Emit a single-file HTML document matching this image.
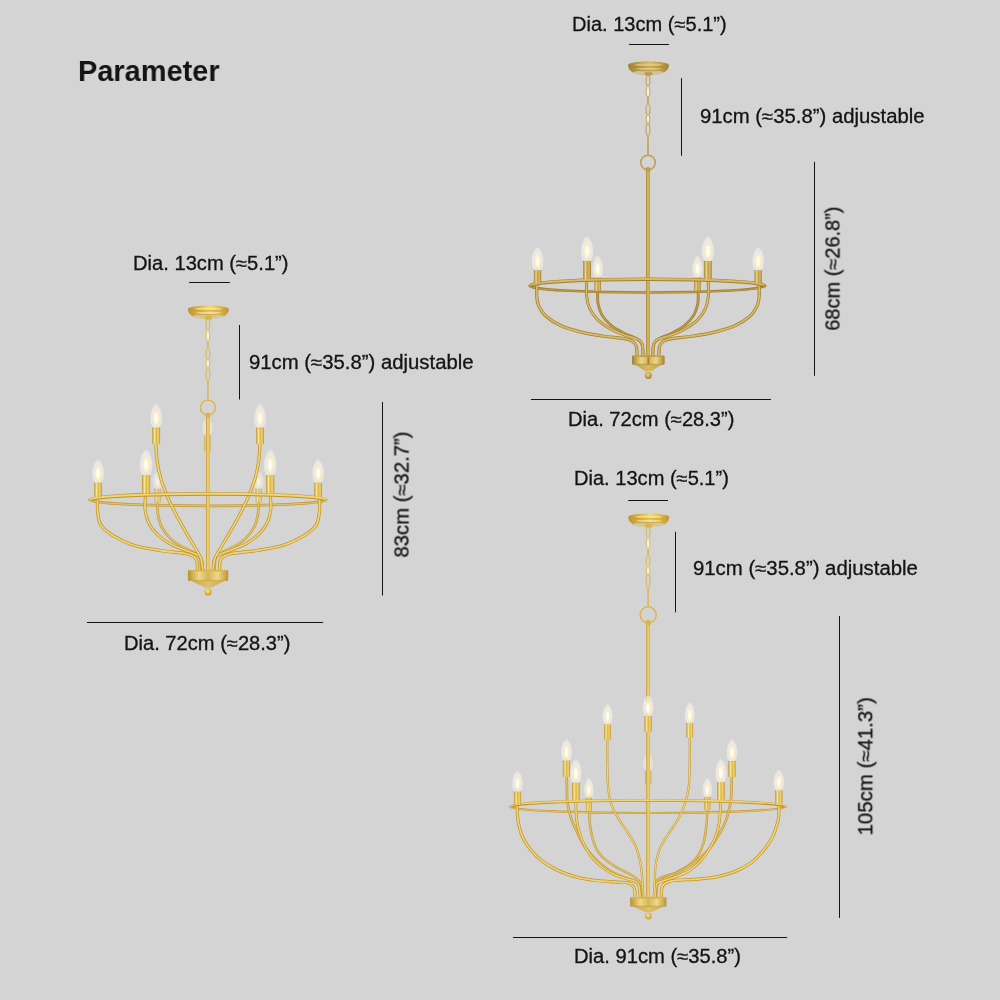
<!DOCTYPE html>
<html lang="en"><head><meta charset="utf-8"><title>Parameter</title>
<style>
html,body{margin:0;padding:0}
body{width:1000px;height:1000px;background:#d4d4d4;position:relative;overflow:hidden;font-family:"Liberation Sans",sans-serif;color:#141414}
svg{position:absolute;left:0;top:0}
.t{position:absolute;will-change:transform;-webkit-text-stroke:0.3px #141414;white-space:nowrap;line-height:1;transform-origin:0 0;font-size:20px}
.h{font-weight:700;-webkit-text-stroke:0}
</style></head>
<body>
<svg width="1000" height="1000" viewBox="0 0 1000 1000">
<defs>
<linearGradient id="gRoda" x1="0" x2="1" y1="0" y2="0"><stop offset="0" stop-color="#a08035"/><stop offset="0.45" stop-color="#d8ba62"/><stop offset="1" stop-color="#bf9d49"/></linearGradient>
<linearGradient id="gSla" x1="0" x2="1" y1="0" y2="0"><stop offset="0" stop-color="#a08035"/><stop offset="0.3" stop-color="#ead68a"/><stop offset="0.52" stop-color="#bf9d49"/><stop offset="0.75" stop-color="#d8ba62"/><stop offset="1" stop-color="#a08035"/></linearGradient>
<linearGradient id="gCana" x1="0" x2="1" y1="0" y2="0"><stop offset="0" stop-color="#a08035"/><stop offset="0.3" stop-color="#bf9d49"/><stop offset="0.55" stop-color="#d8ba62"/><stop offset="0.8" stop-color="#bf9d49"/><stop offset="1" stop-color="#a08035"/></linearGradient>
<linearGradient id="gHuba" x1="0" x2="1" y1="0" y2="0"><stop offset="0" stop-color="#a08035"/><stop offset="0.1" stop-color="#bf9d49"/><stop offset="0.28" stop-color="#ead68a"/><stop offset="0.45" stop-color="#d8ba62"/><stop offset="0.5" stop-color="#a08035"/><stop offset="0.56" stop-color="#d8ba62"/><stop offset="0.74" stop-color="#ead68a"/><stop offset="0.92" stop-color="#bf9d49"/><stop offset="1" stop-color="#a08035"/></linearGradient>
<linearGradient id="gConea" x1="0" x2="1" y1="0" y2="0"><stop offset="0" stop-color="#bf9d49"/><stop offset="0.5" stop-color="#d8ba62"/><stop offset="1" stop-color="#bf9d49"/></linearGradient>
<radialGradient id="gBalla" cx="0.45" cy="0.35" r="0.7"><stop offset="0" stop-color="#ead68a"/><stop offset="0.6" stop-color="#bf9d49"/><stop offset="1" stop-color="#a08035"/></radialGradient>
<linearGradient id="gRodb" x1="0" x2="1" y1="0" y2="0"><stop offset="0" stop-color="#c0912e"/><stop offset="0.45" stop-color="#f0d670"/><stop offset="1" stop-color="#dcb548"/></linearGradient>
<linearGradient id="gSlb" x1="0" x2="1" y1="0" y2="0"><stop offset="0" stop-color="#c0912e"/><stop offset="0.3" stop-color="#f8e896"/><stop offset="0.52" stop-color="#dcb548"/><stop offset="0.75" stop-color="#f0d670"/><stop offset="1" stop-color="#c0912e"/></linearGradient>
<linearGradient id="gCanb" x1="0" x2="1" y1="0" y2="0"><stop offset="0" stop-color="#c0912e"/><stop offset="0.3" stop-color="#dcb548"/><stop offset="0.55" stop-color="#f0d670"/><stop offset="0.8" stop-color="#dcb548"/><stop offset="1" stop-color="#c0912e"/></linearGradient>
<linearGradient id="gHubb" x1="0" x2="1" y1="0" y2="0"><stop offset="0" stop-color="#b3913a"/><stop offset="0.1" stop-color="#cdab4e"/><stop offset="0.28" stop-color="#ead888"/><stop offset="0.45" stop-color="#dcc068"/><stop offset="0.5" stop-color="#d4b658"/><stop offset="0.56" stop-color="#dcc068"/><stop offset="0.74" stop-color="#ead888"/><stop offset="0.92" stop-color="#cdab4e"/><stop offset="1" stop-color="#b3913a"/></linearGradient>
<linearGradient id="gConeb" x1="0" x2="1" y1="0" y2="0"><stop offset="0" stop-color="#cdab4e"/><stop offset="0.5" stop-color="#dcc068"/><stop offset="1" stop-color="#cdab4e"/></linearGradient>
<radialGradient id="gBallb" cx="0.45" cy="0.35" r="0.7"><stop offset="0" stop-color="#f8e896"/><stop offset="0.6" stop-color="#dcb548"/><stop offset="1" stop-color="#c0912e"/></radialGradient>
<radialGradient id="gBulb" cx="0.5" cy="0.55" r="0.6"><stop offset="0" stop-color="#fffdf6" stop-opacity="0.85"/><stop offset="0.6" stop-color="#f9f7f0" stop-opacity="0.62"/><stop offset="1" stop-color="#f0efea" stop-opacity="0.45"/></radialGradient>
<radialGradient id="gGlow" cx="0.5" cy="0.5" r="0.5"><stop offset="0" stop-color="#fffef6"/><stop offset="0.5" stop-color="#fffae2"/><stop offset="0.75" stop-color="#f9eab8" stop-opacity="0.8"/><stop offset="1" stop-color="#f3e0a4" stop-opacity="0"/></radialGradient>
</defs>
<g id="c1">
<rect x="629" y="44" width="40" height="1" fill="#141414"/>
<rect x="681" y="78.2" width="1" height="77.5" fill="#141414"/>
<rect x="814" y="161.8" width="1" height="214" fill="#141414"/>
<rect x="530.9" y="399" width="240" height="1" fill="#141414"/>
<path d="M628 65.28C628 60.4 669 60.4 669 65.28C668.5 69.66 665.9 71 664.9 72C658.34 75.79 638.66 75.79 632.1 72C631.1 71 628.5 69.66 628 65.28 Z" fill="url(#gCana)"/>
<ellipse cx="648.5" cy="72.5" rx="15.25" ry="2.19" fill="#cdc5ac" opacity="0.92"/>
<ellipse cx="648.5" cy="64.84" rx="13.53" ry="1.46" fill="#ead68a" opacity="0.6"/>
<ellipse cx="648.5" cy="67.03" rx="16.4" ry="0.58" fill="#a08035" opacity="0.55"/>
<ellipse cx="648.5" cy="68.78" rx="12.3" ry="1.02" fill="#ead68a" opacity="0.6"/>
<ellipse cx="648.5" cy="70.68" rx="14.76" ry="0.58" fill="#a08035" opacity="0.5"/>
<ellipse cx="648.5" cy="73.75" rx="4.2" ry="2.1" fill="#bf9d49"/>
<ellipse cx="648" cy="80.67" rx="2.0" ry="5.57" fill="none" stroke="#bf9d49" stroke-width="1.0"/>
<ellipse cx="648" cy="91.4" rx="1.9" ry="5.96" fill="#f1eee4" stroke="#bf9d49" stroke-width="0.9"/>
<rect x="647.25" y="96.97" width="1.5" height="7.16" rx="0.7" fill="#bf9d49"/>
<ellipse cx="648" cy="109.69" rx="2.0" ry="5.96" fill="none" stroke="#bf9d49" stroke-width="1.0"/>
<ellipse cx="648" cy="119.22" rx="1.9" ry="4.37" fill="#f1eee4" stroke="#bf9d49" stroke-width="0.9"/>
<ellipse cx="648" cy="129.56" rx="2.0" ry="6.76" fill="none" stroke="#bf9d49" stroke-width="1.0"/>
<rect x="647.25" y="135.92" width="1.5" height="7.95" rx="0.7" fill="#bf9d49"/>
<rect x="647.25" y="143.87" width="1.5" height="11.13" rx="0.7" fill="#bf9d49"/>
<circle cx="648" cy="162.6" r="7.3" fill="none" stroke="#bf9d49" stroke-width="1.4"/>
<path d="M529.6 285.9 A117.8 6.6 0 0 0 765.2 285.9" fill="none" stroke="#9e7a2e" stroke-width="2.6"/>
<path d="M529.6 285.9 A117.8 6.6 0 0 0 765.2 285.9" fill="none" stroke="#c29a46" stroke-width="1.3"/>
<path d="M597.74 290.2C597.79 292.37 597.31 299.09 598 303.2C598.7 307.32 599.74 311.22 601.9 314.9C604.07 318.59 607.32 322.27 611 325.3C614.69 328.34 620.1 331.07 624 333.1C627.9 335.14 631.63 336.09 634.4 337.52C637.18 338.95 639.26 340.04 640.64 341.68C642.03 343.33 642.33 345.15 642.72 347.41C643.11 349.66 642.94 353.91 642.98 355.21" fill="none" stroke="#9e7a2e" stroke-width="2.76" stroke-linecap="round"/>
<path d="M597.74 290.2C597.79 292.37 597.31 299.09 598 303.2C598.7 307.32 599.74 311.22 601.9 314.9C604.07 318.59 607.32 322.27 611 325.3C614.69 328.34 620.1 331.07 624 333.1C627.9 335.14 631.63 336.09 634.4 337.52C637.18 338.95 639.26 340.04 640.64 341.68C642.03 343.33 642.33 345.15 642.72 347.41C643.11 349.66 642.94 353.91 642.98 355.21" fill="none" stroke="#c29a46" stroke-width="1.38" stroke-linecap="round"/>
<path d="M698.11 290.2C698.06 292.37 698.54 299.09 697.85 303.2C697.15 307.32 696.11 311.22 693.95 314.9C691.78 318.59 688.53 322.27 684.85 325.3C681.16 328.34 675.75 331.07 671.85 333.1C667.95 335.14 664.22 336.09 661.45 337.52C658.67 338.95 656.59 340.04 655.21 341.68C653.82 343.33 653.52 345.15 653.13 347.41C652.74 349.66 652.91 353.91 652.87 355.21" fill="none" stroke="#9e7a2e" stroke-width="2.76" stroke-linecap="round"/>
<path d="M698.11 290.2C698.06 292.37 698.54 299.09 697.85 303.2C697.15 307.32 696.11 311.22 693.95 314.9C691.78 318.59 688.53 322.27 684.85 325.3C681.16 328.34 675.75 331.07 671.85 333.1C667.95 335.14 664.22 336.09 661.45 337.52C658.67 338.95 656.59 340.04 655.21 341.68C653.82 343.33 653.52 345.15 653.13 347.41C652.74 349.66 652.91 353.91 652.87 355.21" fill="none" stroke="#c29a46" stroke-width="1.38" stroke-linecap="round"/>
<g>
<rect x="594.44" y="277.2" width="6.6" height="13.52" rx="0.6" fill="url(#gSla)" />
<rect x="594.44" y="277.2" width="6.6" height="0.9" fill="#a08035" opacity="0.5"/>
<path d="M595.1 277.5C593.15 274.91 592.91 272.11 592.91 268.44C592.91 261.96 595.91 256.78 597.74 255.92C599.58 256.78 602.58 261.96 602.58 268.44C602.58 272.11 602.34 274.91 600.38 277.5 Z" fill="url(#gBulb)" stroke="#f3f1ea" stroke-opacity="0.7" stroke-width="0.5"/>
<ellipse cx="597.74" cy="268.87" rx="3.19" ry="8.63" fill="url(#gGlow)"/>
</g>
<g>
<rect x="694.16" y="277.2" width="6.6" height="13.52" rx="0.6" fill="url(#gSla)" />
<rect x="694.16" y="277.2" width="6.6" height="0.9" fill="#a08035" opacity="0.5"/>
<path d="M694.82 277.5C692.86 274.91 692.62 272.11 692.62 268.44C692.62 261.96 695.62 256.78 697.46 255.92C699.29 256.78 702.29 261.96 702.29 268.44C702.29 272.11 702.05 274.91 700.1 277.5 Z" fill="url(#gBulb)" stroke="#f3f1ea" stroke-opacity="0.7" stroke-width="0.5"/>
<ellipse cx="697.46" cy="268.87" rx="3.19" ry="8.63" fill="url(#gGlow)"/>
</g>
<path d="M586.82 278.5C586.78 281.32 586.09 290.42 586.56 295.4C587.04 300.39 587.78 304.29 589.68 308.4C591.59 312.52 594.45 316.64 598 320.1C601.56 323.57 606.24 326.6 611 329.2C615.77 331.8 622.18 334.06 626.6 335.7C631.02 337.35 634.92 337.65 637.52 339.08C640.12 340.51 641.29 341.6 642.2 344.28C643.11 346.97 642.85 353.39 642.98 355.21" fill="none" stroke="#a08035" stroke-width="3" stroke-linecap="round"/>
<path d="M586.82 278.5C586.78 281.32 586.09 290.42 586.56 295.4C587.04 300.39 587.78 304.29 589.68 308.4C591.59 312.52 594.45 316.64 598 320.1C601.56 323.57 606.24 326.6 611 329.2C615.77 331.8 622.18 334.06 626.6 335.7C631.02 337.35 634.92 337.65 637.52 339.08C640.12 340.51 641.29 341.6 642.2 344.28C643.11 346.97 642.85 353.39 642.98 355.21" fill="none" stroke="#d8ba62" stroke-width="1.65" stroke-linecap="round"/>
<path d="M708.03 278.5C708.1 281.32 708.89 290.42 708.47 295.4C708.06 300.39 707.38 304.29 705.54 308.4C703.69 312.52 700.89 316.64 697.4 320.1C693.91 323.57 689.29 326.6 684.59 329.2C679.88 331.8 673.55 334.06 669.17 335.7C664.79 337.35 660.91 337.65 658.33 339.08C655.74 340.51 654.56 341.6 653.65 344.28C652.74 346.97 653 353.39 652.87 355.21" fill="none" stroke="#a08035" stroke-width="3" stroke-linecap="round"/>
<path d="M708.03 278.5C708.1 281.32 708.89 290.42 708.47 295.4C708.06 300.39 707.38 304.29 705.54 308.4C703.69 312.52 700.89 316.64 697.4 320.1C693.91 323.57 689.29 326.6 684.59 329.2C679.88 331.8 673.55 334.06 669.17 335.7C664.79 337.35 660.91 337.65 658.33 339.08C655.74 340.51 654.56 341.6 653.65 344.28C652.74 346.97 653 353.39 652.87 355.21" fill="none" stroke="#d8ba62" stroke-width="1.65" stroke-linecap="round"/>
<rect x="646.05" y="168.5" width="3.9" height="187.5" fill="url(#gRoda)"/>
<circle cx="648" cy="169.5" r="2.6" fill="#bf9d49"/>
<path d="M537.16 283.7C537.07 285.65 536.38 291.72 536.64 295.4C536.9 299.09 537.16 302.34 538.72 305.8C540.28 309.27 542.19 312.82 546 316.2C549.81 319.58 555.53 323.4 561.6 326.08C567.67 328.77 575.04 330.59 582.4 332.32C589.77 334.06 598.87 335.44 605.8 336.48C612.74 337.52 619.58 337.78 624 338.56C628.42 339.34 630.29 339.91 632.32 341.16C634.36 342.42 635.44 343.76 636.22 346.11C637 348.45 636.87 353.69 637 355.21" fill="none" stroke="#a08035" stroke-width="3.24" stroke-linecap="round"/>
<path d="M537.16 283.7C537.07 285.65 536.38 291.72 536.64 295.4C536.9 299.09 537.16 302.34 538.72 305.8C540.28 309.27 542.19 312.82 546 316.2C549.81 319.58 555.53 323.4 561.6 326.08C567.67 328.77 575.04 330.59 582.4 332.32C589.77 334.06 598.87 335.44 605.8 336.48C612.74 337.52 619.58 337.78 624 338.56C628.42 339.34 630.29 339.91 632.32 341.16C634.36 342.42 635.44 343.76 636.22 346.11C637 348.45 636.87 353.69 637 355.21" fill="none" stroke="#d8ba62" stroke-width="1.78" stroke-linecap="round"/>
<path d="M758.69 283.7C758.78 285.65 759.47 291.72 759.21 295.4C758.95 299.09 758.69 302.34 757.13 305.8C755.57 309.27 753.66 312.82 749.85 316.2C746.04 319.58 740.32 323.4 734.25 326.08C728.18 328.77 720.81 330.59 713.45 332.32C706.08 334.06 696.98 335.44 690.05 336.48C683.11 337.52 676.27 337.78 671.85 338.56C667.43 339.34 665.56 339.91 663.53 341.16C661.49 342.42 660.41 343.76 659.63 346.11C658.85 348.45 658.98 353.69 658.85 355.21" fill="none" stroke="#a08035" stroke-width="3.24" stroke-linecap="round"/>
<path d="M758.69 283.7C758.78 285.65 759.47 291.72 759.21 295.4C758.95 299.09 758.69 302.34 757.13 305.8C755.57 309.27 753.66 312.82 749.85 316.2C746.04 319.58 740.32 323.4 734.25 326.08C728.18 328.77 720.81 330.59 713.45 332.32C706.08 334.06 696.98 335.44 690.05 336.48C683.11 337.52 676.27 337.78 671.85 338.56C667.43 339.34 665.56 339.91 663.53 341.16C661.49 342.42 660.41 343.76 659.63 346.11C658.85 348.45 658.98 353.69 658.85 355.21" fill="none" stroke="#d8ba62" stroke-width="1.78" stroke-linecap="round"/>
<path d="M530 285.9 A117.4 6.6 0 0 1 764.8 285.9" fill="none" stroke="#a08035" stroke-width="3.6"/>
<path d="M530 285.9 A117.4 6.6 0 0 1 764.8 285.9" fill="none" stroke="#d8ba62" stroke-width="1.98" transform="translate(0,-0.3)"/>
<g>
<rect x="533.9" y="269.92" width="7.3" height="13.26" rx="0.6" fill="url(#gSla)" />
<rect x="533.9" y="269.92" width="7.3" height="0.9" fill="#a08035" opacity="0.5"/>
<path d="M534.63 270.22C532.34 267.51 532.06 264.57 532.06 260.72C532.06 253.93 535.47 248.51 537.55 247.6C539.64 248.51 543.04 253.93 543.04 260.72C543.04 264.57 542.76 267.51 540.47 270.22 Z" fill="url(#gBulb)" stroke="#f3f1ea" stroke-opacity="0.7" stroke-width="0.5"/>
<ellipse cx="537.55" cy="261.17" rx="3.62" ry="9.05" fill="url(#gGlow)"/>
</g>
<g>
<rect x="754.52" y="269.92" width="7.3" height="13.26" rx="0.6" fill="url(#gSla)" />
<rect x="754.52" y="269.92" width="7.3" height="0.9" fill="#a08035" opacity="0.5"/>
<path d="M755.25 270.22C752.96 267.51 752.68 264.57 752.68 260.72C752.68 253.93 756.08 248.51 758.17 247.6C760.25 248.51 763.66 253.93 763.66 260.72C763.66 264.57 763.38 267.51 761.09 270.22 Z" fill="url(#gBulb)" stroke="#f3f1ea" stroke-opacity="0.7" stroke-width="0.5"/>
<ellipse cx="758.17" cy="261.17" rx="3.62" ry="9.05" fill="url(#gGlow)"/>
</g>
<g>
<rect x="583.18" y="260.82" width="7.8" height="18.46" rx="0.6" fill="url(#gSla)" />
<rect x="583.18" y="260.82" width="7.8" height="0.9" fill="#a08035" opacity="0.5"/>
<path d="M583.96 261.12C581.6 258.16 581.32 254.95 581.32 250.75C581.32 243.34 584.89 237.41 587.08 236.42C589.27 237.41 592.85 243.34 592.85 250.75C592.85 254.95 592.56 258.16 590.2 261.12 Z" fill="url(#gBulb)" stroke="#f3f1ea" stroke-opacity="0.7" stroke-width="0.5"/>
<ellipse cx="587.08" cy="251.24" rx="3.81" ry="9.88" fill="url(#gGlow)"/>
</g>
<g>
<rect x="703.96" y="260.82" width="7.8" height="18.46" rx="0.6" fill="url(#gSla)" />
<rect x="703.96" y="260.82" width="7.8" height="0.9" fill="#a08035" opacity="0.5"/>
<path d="M704.74 261.12C702.38 258.16 702.09 254.95 702.09 250.75C702.09 243.34 705.67 237.41 707.86 236.42C710.05 237.41 713.62 243.34 713.62 250.75C713.62 254.95 713.34 258.16 710.98 261.12 Z" fill="url(#gBulb)" stroke="#f3f1ea" stroke-opacity="0.7" stroke-width="0.5"/>
<ellipse cx="707.86" cy="251.24" rx="3.81" ry="9.88" fill="url(#gGlow)"/>
</g>
<path d="M634.2 363.8C636.56 365.9 641.78 368.58 645.3 371.2L651.3 371.2C654.82 368.58 660.04 365.9 662.4 363.8 Z" fill="url(#gConea)"/>
<rect x="632" y="355.6" width="32.6" height="9" rx="1" fill="url(#gHuba)"/>
<ellipse cx="648.3" cy="356.1" rx="16" ry="1.0" fill="#bf9d49"/>
<path d="M632.3 364.3 L664.3 364.3" stroke="#a08035" stroke-width="0.8" opacity="0.7"/>
<circle cx="648.3" cy="375.6" r="3.5" fill="url(#gBalla)"/>
</g>
<g id="c2">
<rect x="189.1" y="282" width="40.8" height="1" fill="#141414"/>
<rect x="239" y="325" width="1" height="74.5" fill="#141414"/>
<rect x="382" y="402" width="1" height="193.5" fill="#141414"/>
<rect x="87" y="622" width="236.1" height="1" fill="#141414"/>
<path d="M187.9 309.18C187.9 304.3 228.9 304.3 228.9 309.18C228.4 313.56 225.8 314.9 224.8 315.9C218.24 319.69 198.56 319.69 192 315.9C191 314.9 188.4 313.56 187.9 309.18 Z" fill="url(#gCanb)"/>
<ellipse cx="208.4" cy="316.4" rx="15.25" ry="2.19" fill="#d0c8ac" opacity="0.92"/>
<ellipse cx="208.4" cy="308.74" rx="13.53" ry="1.46" fill="#f8e896" opacity="0.6"/>
<ellipse cx="208.4" cy="310.93" rx="16.4" ry="0.58" fill="#c0912e" opacity="0.55"/>
<ellipse cx="208.4" cy="312.68" rx="12.3" ry="1.02" fill="#f8e896" opacity="0.6"/>
<ellipse cx="208.4" cy="314.58" rx="14.76" ry="0.58" fill="#c0912e" opacity="0.5"/>
<ellipse cx="208.4" cy="317.65" rx="4.2" ry="2.1" fill="#dcb548"/>
<ellipse cx="207.9" cy="324.64" rx="2.0" ry="5.64" fill="none" stroke="#dcb548" stroke-width="1.0"/>
<ellipse cx="207.9" cy="335.52" rx="1.9" ry="6.04" fill="#f1eee4" stroke="#dcb548" stroke-width="0.9"/>
<rect x="207.15" y="341.16" width="1.5" height="7.25" rx="0.7" fill="#dcb548"/>
<ellipse cx="207.9" cy="354.06" rx="2.0" ry="6.04" fill="none" stroke="#dcb548" stroke-width="1.0"/>
<ellipse cx="207.9" cy="363.73" rx="1.9" ry="4.43" fill="#f1eee4" stroke="#dcb548" stroke-width="0.9"/>
<ellipse cx="207.9" cy="374.21" rx="2.0" ry="6.85" fill="none" stroke="#dcb548" stroke-width="1.0"/>
<rect x="207.15" y="380.66" width="1.5" height="8.06" rx="0.7" fill="#dcb548"/>
<rect x="207.15" y="388.72" width="1.5" height="11.28" rx="0.7" fill="#dcb548"/>
<circle cx="207.9" cy="407.6" r="7.5" fill="none" stroke="#dcb548" stroke-width="1.4"/>
<path d="M89.5 499.97 A118.3 5.9 0 0 0 326.1 499.97" fill="none" stroke="#c29a3c" stroke-width="2.6"/>
<path d="M89.5 499.97 A118.3 5.9 0 0 0 326.1 499.97" fill="none" stroke="#e2c262" stroke-width="1.3"/>
<g opacity="0.72">
<rect x="204.11" y="435.1" width="6.6" height="16.12" rx="0.6" fill="url(#gSlb)" />
<rect x="204.11" y="435.1" width="6.6" height="0.9" fill="#c0912e" opacity="0.5"/>
<path d="M204.77 435.4C202.9 433.31 202.66 431.05 202.66 428.08C202.66 422.86 205.6 418.68 207.41 417.98C209.21 418.68 212.15 422.86 212.15 428.08C212.15 431.05 211.91 433.31 210.05 435.4 Z" fill="url(#gBulb)" stroke="#f3f1ea" stroke-opacity="0.7" stroke-width="0.5"/>
<ellipse cx="207.41" cy="428.43" rx="3.13" ry="6.97" fill="url(#gGlow)"/>
</g>
<path d="M157.48 502.7C157.57 504.65 157.27 510.29 158 514.4C158.74 518.52 159.74 523.29 161.9 527.41C164.07 531.52 167.32 535.73 171 539.11C174.69 542.49 180.1 545.39 184 547.69C187.9 549.98 191.72 551.28 194.4 552.89C197.09 554.49 199 554.62 200.12 557.31C201.25 559.99 200.99 567.06 201.16 569.01" fill="none" stroke="#c29a3c" stroke-width="2.64" stroke-linecap="round"/>
<path d="M157.48 502.7C157.57 504.65 157.27 510.29 158 514.4C158.74 518.52 159.74 523.29 161.9 527.41C164.07 531.52 167.32 535.73 171 539.11C174.69 542.49 180.1 545.39 184 547.69C187.9 549.98 191.72 551.28 194.4 552.89C197.09 554.49 199 554.62 200.12 557.31C201.25 559.99 200.99 567.06 201.16 569.01" fill="none" stroke="#e2c262" stroke-width="1.32" stroke-linecap="round"/>
<path d="M258.37 502.7C258.28 504.65 258.58 510.29 257.85 514.4C257.11 518.52 256.11 523.29 253.95 527.41C251.78 531.52 248.53 535.73 244.85 539.11C241.16 542.49 235.75 545.39 231.85 547.69C227.95 549.98 224.13 551.28 221.45 552.89C218.76 554.49 216.85 554.62 215.73 557.31C214.6 559.99 214.86 567.06 214.69 569.01" fill="none" stroke="#c29a3c" stroke-width="2.64" stroke-linecap="round"/>
<path d="M258.37 502.7C258.28 504.65 258.58 510.29 257.85 514.4C257.11 518.52 256.11 523.29 253.95 527.41C251.78 531.52 248.53 535.73 244.85 539.11C241.16 542.49 235.75 545.39 231.85 547.69C227.95 549.98 224.13 551.28 221.45 552.89C218.76 554.49 216.85 554.62 215.73 557.31C214.6 559.99 214.86 567.06 214.69 569.01" fill="none" stroke="#e2c262" stroke-width="1.32" stroke-linecap="round"/>
<g opacity="0.72">
<rect x="154.51" y="488.4" width="6.2" height="14.3" rx="0.6" fill="url(#gSlb)" />
<rect x="154.51" y="488.4" width="6.2" height="0.9" fill="#c0912e" opacity="0.5"/>
<path d="M155.13 488.7C153.28 486.68 153.06 484.48 153.06 481.61C153.06 476.54 155.88 472.48 157.61 471.8C159.34 472.48 162.17 476.54 162.17 481.61C162.17 484.48 161.94 486.68 160.09 488.7 Z" fill="url(#gBulb)" stroke="#f3f1ea" stroke-opacity="0.7" stroke-width="0.5"/>
<ellipse cx="157.61" cy="481.94" rx="3.01" ry="6.76" fill="url(#gGlow)"/>
</g>
<g opacity="0.72">
<rect x="255.66" y="488.4" width="6.2" height="14.3" rx="0.6" fill="url(#gSlb)" />
<rect x="255.66" y="488.4" width="6.2" height="0.9" fill="#c0912e" opacity="0.5"/>
<path d="M256.28 488.7C254.43 486.68 254.2 484.48 254.2 481.61C254.2 476.54 257.03 472.48 258.76 471.8C260.49 472.48 263.31 476.54 263.31 481.61C263.31 484.48 263.09 486.68 261.24 488.7 Z" fill="url(#gBulb)" stroke="#f3f1ea" stroke-opacity="0.7" stroke-width="0.5"/>
<ellipse cx="258.76" cy="481.94" rx="3.01" ry="6.76" fill="url(#gGlow)"/>
</g>
<path d="M145.78 493.08C145.65 495.77 144.48 504.13 145 509.2C145.52 514.27 146.74 519.17 148.9 523.5C151.07 527.84 154.32 531.74 158 535.21C161.69 538.67 166.24 541.71 171 544.31C175.77 546.91 182.27 549.07 186.6 550.81C190.94 552.54 194.49 553.19 197 554.71C199.52 556.22 200.82 557.52 201.68 559.91C202.55 562.29 202.12 567.49 202.2 569.01" fill="none" stroke="#c0912e" stroke-width="3" stroke-linecap="round"/>
<path d="M145.78 493.08C145.65 495.77 144.48 504.13 145 509.2C145.52 514.27 146.74 519.17 148.9 523.5C151.07 527.84 154.32 531.74 158 535.21C161.69 538.67 166.24 541.71 171 544.31C175.77 546.91 182.27 549.07 186.6 550.81C190.94 552.54 194.49 553.19 197 554.71C199.52 556.22 200.82 557.52 201.68 559.91C202.55 562.29 202.12 567.49 202.2 569.01" fill="none" stroke="#f0d670" stroke-width="1.65" stroke-linecap="round"/>
<path d="M270.07 493.08C270.2 495.77 271.37 504.13 270.85 509.2C270.33 514.27 269.11 519.17 266.95 523.5C264.78 527.84 261.53 531.74 257.85 535.21C254.16 538.67 249.61 541.71 244.85 544.31C240.08 546.91 233.58 549.07 229.25 550.81C224.91 552.54 221.36 553.19 218.85 554.71C216.33 556.22 215.03 557.52 214.17 559.91C213.3 562.29 213.73 567.49 213.65 569.01" fill="none" stroke="#c0912e" stroke-width="3" stroke-linecap="round"/>
<path d="M270.07 493.08C270.2 495.77 271.37 504.13 270.85 509.2C270.33 514.27 269.11 519.17 266.95 523.5C264.78 527.84 261.53 531.74 257.85 535.21C254.16 538.67 249.61 541.71 244.85 544.31C240.08 546.91 233.58 549.07 229.25 550.81C224.91 552.54 221.36 553.19 218.85 554.71C216.33 556.22 215.03 557.52 214.17 559.91C213.3 562.29 213.73 567.49 213.65 569.01" fill="none" stroke="#f0d670" stroke-width="1.65" stroke-linecap="round"/>
<rect x="205.95" y="414.3" width="3.9" height="155.23" fill="url(#gRodb)"/>
<circle cx="207.9" cy="415.08" r="2.6" fill="#dcb548"/>
<path d="M155.92 443.68C156.1 446.37 156.18 454.08 156.96 459.8C157.74 465.52 158.7 471.5 160.6 478C162.51 484.5 165.37 491.87 168.4 498.8C171.44 505.74 175.34 513.1 178.8 519.6C182.27 526.11 186.17 532.61 189.2 537.81C192.24 543.01 195.01 547.25 197 550.81C199 554.36 200.21 556.09 201.16 559.13C202.12 562.16 202.46 567.36 202.72 569.01" fill="none" stroke="#c0912e" stroke-width="3.12" stroke-linecap="round"/>
<path d="M155.92 443.68C156.1 446.37 156.18 454.08 156.96 459.8C157.74 465.52 158.7 471.5 160.6 478C162.51 484.5 165.37 491.87 168.4 498.8C171.44 505.74 175.34 513.1 178.8 519.6C182.27 526.11 186.17 532.61 189.2 537.81C192.24 543.01 195.01 547.25 197 550.81C199 554.36 200.21 556.09 201.16 559.13C202.12 562.16 202.46 567.36 202.72 569.01" fill="none" stroke="#f0d670" stroke-width="1.72" stroke-linecap="round"/>
<path d="M259.93 443.68C259.75 446.37 259.67 454.08 258.89 459.8C258.11 465.52 257.15 471.5 255.25 478C253.34 484.5 250.48 491.87 247.45 498.8C244.41 505.74 240.51 513.1 237.05 519.6C233.58 526.11 229.68 532.61 226.65 537.81C223.61 543.01 220.84 547.25 218.85 550.81C216.85 554.36 215.64 556.09 214.69 559.13C213.73 562.16 213.39 567.36 213.13 569.01" fill="none" stroke="#c0912e" stroke-width="3.12" stroke-linecap="round"/>
<path d="M259.93 443.68C259.75 446.37 259.67 454.08 258.89 459.8C258.11 465.52 257.15 471.5 255.25 478C253.34 484.5 250.48 491.87 247.45 498.8C244.41 505.74 240.51 513.1 237.05 519.6C233.58 526.11 229.68 532.61 226.65 537.81C223.61 543.01 220.84 547.25 218.85 550.81C216.85 554.36 215.64 556.09 214.69 559.13C213.73 562.16 213.39 567.36 213.13 569.01" fill="none" stroke="#f0d670" stroke-width="1.72" stroke-linecap="round"/>
<path d="M97.6 496C97.62 498.67 97.13 507.13 97.7 512C98.27 516.87 98.45 521.25 101 525.2C103.55 529.15 107.67 532.4 113 535.7C118.33 539 125.17 542.53 133 545C140.83 547.47 151.33 549.08 160 550.5C168.67 551.92 179.28 552.42 185 553.5C190.72 554.58 192.28 555.58 194.3 557C196.32 558.42 196.58 559.83 197.1 562C197.62 564.17 197.35 568.67 197.4 570" fill="none" stroke="#c0912e" stroke-width="3.24" stroke-linecap="round"/>
<path d="M97.6 496C97.62 498.67 97.13 507.13 97.7 512C98.27 516.87 98.45 521.25 101 525.2C103.55 529.15 107.67 532.4 113 535.7C118.33 539 125.17 542.53 133 545C140.83 547.47 151.33 549.08 160 550.5C168.67 551.92 179.28 552.42 185 553.5C190.72 554.58 192.28 555.58 194.3 557C196.32 558.42 196.58 559.83 197.1 562C197.62 564.17 197.35 568.67 197.4 570" fill="none" stroke="#f0d670" stroke-width="1.78" stroke-linecap="round"/>
<path d="M319.45 496C319.43 498.67 319.92 507.13 319.35 512C318.78 516.87 318.6 521.25 316.05 525.2C313.5 529.15 309.38 532.4 304.05 535.7C298.72 539 291.88 542.53 284.05 545C276.22 547.47 265.72 549.08 257.05 550.5C248.38 551.92 237.77 552.42 232.05 553.5C226.33 554.58 224.77 555.58 222.75 557C220.73 558.42 220.47 559.83 219.95 562C219.43 564.17 219.7 568.67 219.65 570" fill="none" stroke="#c0912e" stroke-width="3.24" stroke-linecap="round"/>
<path d="M319.45 496C319.43 498.67 319.92 507.13 319.35 512C318.78 516.87 318.6 521.25 316.05 525.2C313.5 529.15 309.38 532.4 304.05 535.7C298.72 539 291.88 542.53 284.05 545C276.22 547.47 265.72 549.08 257.05 550.5C248.38 551.92 237.77 552.42 232.05 553.5C226.33 554.58 224.77 555.58 222.75 557C220.73 558.42 220.47 559.83 219.95 562C219.43 564.17 219.7 568.67 219.65 570" fill="none" stroke="#f0d670" stroke-width="1.78" stroke-linecap="round"/>
<path d="M89.9 499.97 A117.9 5.9 0 0 1 325.7 499.97" fill="none" stroke="#c0912e" stroke-width="3.6"/>
<path d="M89.9 499.97 A117.9 5.9 0 0 1 325.7 499.97" fill="none" stroke="#f0d670" stroke-width="1.98" transform="translate(0,-0.3)"/>
<g>
<rect x="94.27" y="482.42" width="7.6" height="14.3" rx="0.6" fill="url(#gSlb)" />
<rect x="94.27" y="482.42" width="7.6" height="0.9" fill="#c0912e" opacity="0.5"/>
<path d="M95.03 482.72C92.9 479.95 92.63 476.94 92.63 473C92.63 466.06 96 460.51 98.07 459.58C100.14 460.51 103.51 466.06 103.51 473C103.51 476.94 103.24 479.95 101.11 482.72 Z" fill="url(#gBulb)" stroke="#f3f1ea" stroke-opacity="0.7" stroke-width="0.5"/>
<ellipse cx="98.07" cy="473.47" rx="3.59" ry="9.26" fill="url(#gGlow)"/>
</g>
<g>
<rect x="314.37" y="482.42" width="7.6" height="14.3" rx="0.6" fill="url(#gSlb)" />
<rect x="314.37" y="482.42" width="7.6" height="0.9" fill="#c0912e" opacity="0.5"/>
<path d="M315.13 482.72C313 479.95 312.73 476.94 312.73 473C312.73 466.06 316.1 460.51 318.17 459.58C320.24 460.51 323.61 466.06 323.61 473C323.61 476.94 323.34 479.95 321.21 482.72 Z" fill="url(#gBulb)" stroke="#f3f1ea" stroke-opacity="0.7" stroke-width="0.5"/>
<ellipse cx="318.17" cy="473.47" rx="3.59" ry="9.26" fill="url(#gGlow)"/>
</g>
<g>
<rect x="141.94" y="474.88" width="8.2" height="18.72" rx="0.6" fill="url(#gSlb)" />
<rect x="141.94" y="474.88" width="8.2" height="0.9" fill="#c0912e" opacity="0.5"/>
<path d="M142.76 475.18C140.48 472.13 140.18 468.81 140.18 464.48C140.18 456.84 143.82 450.72 146.04 449.7C148.27 450.72 151.9 456.84 151.9 464.48C151.9 468.81 151.61 472.13 149.32 475.18 Z" fill="url(#gBulb)" stroke="#f3f1ea" stroke-opacity="0.7" stroke-width="0.5"/>
<ellipse cx="146.04" cy="464.99" rx="3.87" ry="10.19" fill="url(#gGlow)"/>
</g>
<g>
<rect x="266.1" y="474.88" width="8.2" height="18.72" rx="0.6" fill="url(#gSlb)" />
<rect x="266.1" y="474.88" width="8.2" height="0.9" fill="#c0912e" opacity="0.5"/>
<path d="M266.92 475.18C264.63 472.13 264.34 468.81 264.34 464.48C264.34 456.84 267.97 450.72 270.2 449.7C272.42 450.72 276.06 456.84 276.06 464.48C276.06 468.81 275.76 472.13 273.48 475.18 Z" fill="url(#gBulb)" stroke="#f3f1ea" stroke-opacity="0.7" stroke-width="0.5"/>
<ellipse cx="270.2" cy="464.99" rx="3.87" ry="10.19" fill="url(#gGlow)"/>
</g>
<g>
<rect x="152.28" y="427.3" width="7.8" height="16.9" rx="0.6" fill="url(#gSlb)" />
<rect x="152.28" y="427.3" width="7.8" height="0.9" fill="#c0912e" opacity="0.5"/>
<path d="M153.06 427.6C151.06 424.76 150.79 421.69 150.79 417.66C150.79 410.57 154.13 404.89 156.18 403.94C158.23 404.89 161.58 410.57 161.58 417.66C161.58 421.69 161.31 424.76 159.3 427.6 Z" fill="url(#gBulb)" stroke="#f3f1ea" stroke-opacity="0.7" stroke-width="0.5"/>
<ellipse cx="156.18" cy="418.14" rx="3.56" ry="9.46" fill="url(#gGlow)"/>
</g>
<g>
<rect x="256.16" y="427.3" width="7.8" height="16.9" rx="0.6" fill="url(#gSlb)" />
<rect x="256.16" y="427.3" width="7.8" height="0.9" fill="#c0912e" opacity="0.5"/>
<path d="M256.94 427.6C254.93 424.76 254.66 421.69 254.66 417.66C254.66 410.57 258.01 404.89 260.06 403.94C262.11 404.89 265.45 410.57 265.45 417.66C265.45 421.69 265.18 424.76 263.18 427.6 Z" fill="url(#gBulb)" stroke="#f3f1ea" stroke-opacity="0.7" stroke-width="0.5"/>
<ellipse cx="260.06" cy="418.14" rx="3.56" ry="9.46" fill="url(#gGlow)"/>
</g>
<path d="M190.11 579.89C193.55 581.99 200 584.94 205.06 587.73L211.06 587.73C216.12 584.94 222.56 581.99 226.01 579.89 Z" fill="url(#gConeb)"/>
<rect x="187.91" y="570.09" width="40.3" height="10.6" rx="1" fill="url(#gHubb)"/>
<ellipse cx="208.06" cy="570.59" rx="19.85" ry="1.0" fill="#dcb548"/>
<path d="M188.21 580.39 L227.91 580.39" stroke="#c0912e" stroke-width="0.8" opacity="0.7"/>
<circle cx="208.06" cy="591.89" r="3.6" fill="url(#gBallb)"/>
</g>
<g id="c3">
<rect x="628.2" y="500" width="39.8" height="1" fill="#141414"/>
<rect x="675" y="531.8" width="1" height="80.6" fill="#141414"/>
<rect x="839" y="616" width="1" height="301.9" fill="#141414"/>
<rect x="512.9" y="937" width="274.2" height="1" fill="#141414"/>
<path d="M628.2 517.18C628.2 512.3 669.2 512.3 669.2 517.18C668.7 521.56 666.1 522.9 665.1 523.9C658.54 527.69 638.86 527.69 632.3 523.9C631.3 522.9 628.7 521.56 628.2 517.18 Z" fill="url(#gCanb)"/>
<ellipse cx="648.7" cy="524.4" rx="15.25" ry="2.19" fill="#d0c8ac" opacity="0.92"/>
<ellipse cx="648.7" cy="516.74" rx="13.53" ry="1.46" fill="#f8e896" opacity="0.6"/>
<ellipse cx="648.7" cy="518.93" rx="16.4" ry="0.58" fill="#c0912e" opacity="0.55"/>
<ellipse cx="648.7" cy="520.68" rx="12.3" ry="1.02" fill="#f8e896" opacity="0.6"/>
<ellipse cx="648.7" cy="522.58" rx="14.76" ry="0.58" fill="#c0912e" opacity="0.5"/>
<ellipse cx="648.7" cy="525.65" rx="4.2" ry="2.1" fill="#dcb548"/>
<ellipse cx="648.1" cy="532.6" rx="2.0" ry="5.5" fill="none" stroke="#dcb548" stroke-width="1.0"/>
<ellipse cx="648.1" cy="543.2" rx="1.9" ry="5.9" fill="#f1eee4" stroke="#dcb548" stroke-width="0.9"/>
<rect x="647.35" y="548.7" width="1.5" height="7.06" rx="0.7" fill="#dcb548"/>
<ellipse cx="648.1" cy="561.25" rx="2.0" ry="5.9" fill="none" stroke="#dcb548" stroke-width="1.0"/>
<ellipse cx="648.1" cy="570.67" rx="1.9" ry="4.33" fill="#f1eee4" stroke="#dcb548" stroke-width="0.9"/>
<ellipse cx="648.1" cy="580.88" rx="2.0" ry="6.68" fill="none" stroke="#dcb548" stroke-width="1.0"/>
<rect x="647.35" y="587.16" width="1.5" height="7.85" rx="0.7" fill="#dcb548"/>
<rect x="647.35" y="595.01" width="1.5" height="10.99" rx="0.7" fill="#dcb548"/>
<circle cx="648.2" cy="614.8" r="8" fill="none" stroke="#dcb548" stroke-width="1.4"/>
<path d="M510.1 806.7 A137.9 6.3 0 0 0 785.9 806.7" fill="none" stroke="#c29a3c" stroke-width="2.1"/>
<path d="M510.1 806.7 A137.9 6.3 0 0 0 785.9 806.7" fill="none" stroke="#e2c262" stroke-width="1.05"/>
<g opacity="0.72">
<rect x="644.88" y="770.4" width="6.4" height="14.4" rx="0.6" fill="url(#gSlb)" />
<rect x="644.88" y="770.4" width="6.4" height="0.9" fill="#c0912e" opacity="0.5"/>
<path d="M645.52 770.7C643.66 768.54 643.43 766.2 643.43 763.14C643.43 757.74 646.31 753.42 648.08 752.7C649.85 753.42 652.73 757.74 652.73 763.14C652.73 766.2 652.5 768.54 650.64 770.7 Z" fill="url(#gBulb)" stroke="#f3f1ea" stroke-opacity="0.7" stroke-width="0.5"/>
<ellipse cx="648.08" cy="763.5" rx="3.07" ry="7.2" fill="url(#gGlow)"/>
</g>
<path d="M589.28 810.72C589.4 813.1 589.38 820.12 590 825C590.62 829.88 591.76 835.74 593 840C594.24 844.26 595.44 847.32 597.44 850.56C599.44 853.8 601.74 856.57 605 859.44C608.26 862.3 613 865.36 617 867.74C621 870.13 625.5 871.74 629 873.74C632.5 875.74 635.87 877.37 638 879.74C640.12 882.12 640.98 885.14 641.74 888C642.5 890.85 642.42 895.4 642.56 896.88" fill="none" stroke="#c29a3c" stroke-width="2.42" stroke-linecap="round"/>
<path d="M589.28 810.72C589.4 813.1 589.38 820.12 590 825C590.62 829.88 591.76 835.74 593 840C594.24 844.26 595.44 847.32 597.44 850.56C599.44 853.8 601.74 856.57 605 859.44C608.26 862.3 613 865.36 617 867.74C621 870.13 625.5 871.74 629 873.74C632.5 875.74 635.87 877.37 638 879.74C640.12 882.12 640.98 885.14 641.74 888C642.5 890.85 642.42 895.4 642.56 896.88" fill="none" stroke="#e2c262" stroke-width="1.21" stroke-linecap="round"/>
<path d="M707.28 810C707.15 812.5 707.13 819.5 706.5 825C705.87 830.5 705 837.75 703.5 843C702 848.25 700 852.75 697.5 856.5C695 860.25 692.25 862.75 688.5 865.5C684.75 868.25 679.5 871 675 873C670.5 875 664.62 876 661.5 877.5C658.38 879 657.39 878.77 656.26 882C655.13 885.23 654.98 894.4 654.72 896.88" fill="none" stroke="#c29a3c" stroke-width="2.42" stroke-linecap="round"/>
<path d="M707.28 810C707.15 812.5 707.13 819.5 706.5 825C705.87 830.5 705 837.75 703.5 843C702 848.25 700 852.75 697.5 856.5C695 860.25 692.25 862.75 688.5 865.5C684.75 868.25 679.5 871 675 873C670.5 875 664.62 876 661.5 877.5C658.38 879 657.39 878.77 656.26 882C655.13 885.23 654.98 894.4 654.72 896.88" fill="none" stroke="#e2c262" stroke-width="1.21" stroke-linecap="round"/>
<g>
<rect x="585.92" y="797.28" width="6" height="13.44" rx="0.6" fill="url(#gSlb)" />
<rect x="585.92" y="797.28" width="6" height="0.9" fill="#c0912e" opacity="0.5"/>
<path d="M586.52 797.58C584.86 795.3 584.64 792.84 584.64 789.62C584.64 783.93 587.29 779.38 588.92 778.62C590.54 779.38 593.2 783.93 593.2 789.62C593.2 792.84 592.98 795.3 591.32 797.58 Z" fill="url(#gBulb)" stroke="#f3f1ea" stroke-opacity="0.7" stroke-width="0.5"/>
<ellipse cx="588.92" cy="790" rx="2.82" ry="7.58" fill="url(#gGlow)"/>
</g>
<g>
<rect x="704.4" y="796.8" width="6" height="13.2" rx="0.6" fill="url(#gSlb)" />
<rect x="704.4" y="796.8" width="6" height="0.9" fill="#c0912e" opacity="0.5"/>
<path d="M705 797.1C703.34 794.88 703.12 792.48 703.12 789.34C703.12 783.79 705.77 779.36 707.4 778.62C709.02 779.36 711.68 783.79 711.68 789.34C711.68 792.48 711.46 794.88 709.8 797.1 Z" fill="url(#gBulb)" stroke="#f3f1ea" stroke-opacity="0.7" stroke-width="0.5"/>
<ellipse cx="707.4" cy="789.71" rx="2.82" ry="7.39" fill="url(#gGlow)"/>
</g>
<path d="M566.72 776.4C566.76 778.8 566.84 786.44 566.96 790.8C567.08 795.16 566.72 797.86 567.44 802.56C568.16 807.26 569.76 814.26 571.28 819C572.8 823.74 574.68 827 576.56 831C578.44 835 580.32 839.26 582.56 843C584.8 846.74 587.26 850.18 590 853.44C592.74 856.7 595.5 859.56 599 862.56C602.5 865.56 606.74 868.96 611 871.44C615.26 873.92 620.56 875.8 624.56 877.44C628.56 879.08 632.56 879.92 635 881.28C637.44 882.64 638.26 883 639.2 885.6C640.14 888.2 640.4 895 640.64 896.88" fill="none" stroke="#c29a3c" stroke-width="2.64" stroke-linecap="round"/>
<path d="M566.72 776.4C566.76 778.8 566.84 786.44 566.96 790.8C567.08 795.16 566.72 797.86 567.44 802.56C568.16 807.26 569.76 814.26 571.28 819C572.8 823.74 574.68 827 576.56 831C578.44 835 580.32 839.26 582.56 843C584.8 846.74 587.26 850.18 590 853.44C592.74 856.7 595.5 859.56 599 862.56C602.5 865.56 606.74 868.96 611 871.44C615.26 873.92 620.56 875.8 624.56 877.44C628.56 879.08 632.56 879.92 635 881.28C637.44 882.64 638.26 883 639.2 885.6C640.14 888.2 640.4 895 640.64 896.88" fill="none" stroke="#e2c262" stroke-width="1.32" stroke-linecap="round"/>
<path d="M731.76 776.4C731.72 778.8 731.73 786.45 731.52 790.8C731.31 795.15 731.42 797.55 730.5 802.5C729.58 807.45 727.75 815.5 726 820.5C724.25 825.5 722.25 828.5 720 832.5C717.75 836.5 715 841 712.5 844.5C710 848 708 850.5 705 853.5C702 856.5 698.25 859.75 694.5 862.5C690.75 865.25 687 867.5 682.5 870C678 872.5 671.25 875.62 667.5 877.5C663.75 879.38 661.73 879.93 660 881.28C658.27 882.63 657.76 883 657.12 885.6C656.48 888.2 656.32 895 656.16 896.88" fill="none" stroke="#c29a3c" stroke-width="2.64" stroke-linecap="round"/>
<path d="M731.76 776.4C731.72 778.8 731.73 786.45 731.52 790.8C731.31 795.15 731.42 797.55 730.5 802.5C729.58 807.45 727.75 815.5 726 820.5C724.25 825.5 722.25 828.5 720 832.5C717.75 836.5 715 841 712.5 844.5C710 848 708 850.5 705 853.5C702 856.5 698.25 859.75 694.5 862.5C690.75 865.25 687 867.5 682.5 870C678 872.5 671.25 875.62 667.5 877.5C663.75 879.38 661.73 879.93 660 881.28C658.27 882.63 657.76 883 657.12 885.6C656.48 888.2 656.32 895 656.16 896.88" fill="none" stroke="#e2c262" stroke-width="1.32" stroke-linecap="round"/>
<path d="M575.74 799.68C575.87 802.9 575.88 813.52 576.5 819C577.12 824.48 578.19 828.3 579.44 832.56C580.69 836.82 582 840.56 584 844.56C586 848.56 588.44 852.82 591.44 856.56C594.44 860.3 598.24 864 602 867C605.76 870 609.76 872.56 614 874.56C618.24 876.56 623.94 877.88 627.44 879C630.94 880.12 633.12 880.28 635 881.28C636.88 882.28 637.84 882.4 638.72 885C639.59 887.6 640 894.9 640.25 896.88" fill="none" stroke="#c0912e" stroke-width="2.76" stroke-linecap="round"/>
<path d="M575.74 799.68C575.87 802.9 575.88 813.52 576.5 819C577.12 824.48 578.19 828.3 579.44 832.56C580.69 836.82 582 840.56 584 844.56C586 848.56 588.44 852.82 591.44 856.56C594.44 860.3 598.24 864 602 867C605.76 870 609.76 872.56 614 874.56C618.24 876.56 623.94 877.88 627.44 879C630.94 880.12 633.12 880.28 635 881.28C636.88 882.28 637.84 882.4 638.72 885C639.59 887.6 640 894.9 640.25 896.88" fill="none" stroke="#f0d670" stroke-width="1.52" stroke-linecap="round"/>
<path d="M720.96 799.68C720.68 803.4 720.2 815.78 719.28 822C718.36 828.22 717.08 832.5 715.44 837C713.8 841.5 711.93 845 709.44 849C706.95 853 703.74 857.5 700.5 861C697.26 864.5 693.75 867.5 690 870C686.25 872.5 682.25 874.25 678 876C673.75 877.75 668 879.26 664.5 880.5C661 881.74 658.47 881.99 657 883.44C655.53 884.89 655.98 886.96 655.68 889.2C655.38 891.44 655.28 895.6 655.2 896.88" fill="none" stroke="#c0912e" stroke-width="2.76" stroke-linecap="round"/>
<path d="M720.96 799.68C720.68 803.4 720.2 815.78 719.28 822C718.36 828.22 717.08 832.5 715.44 837C713.8 841.5 711.93 845 709.44 849C706.95 853 703.74 857.5 700.5 861C697.26 864.5 693.75 867.5 690 870C686.25 872.5 682.25 874.25 678 876C673.75 877.75 668 879.26 664.5 880.5C661 881.74 658.47 881.99 657 883.44C655.53 884.89 655.98 886.96 655.68 889.2C655.38 891.44 655.28 895.6 655.2 896.88" fill="none" stroke="#f0d670" stroke-width="1.52" stroke-linecap="round"/>
<rect x="646.25" y="622.32" width="3.7" height="274.56" fill="url(#gRodb)"/>
<circle cx="648.1" cy="622.8" r="2.7" fill="#dcb548"/>
<path d="M607.28 739.2C607.28 743 607.16 754.2 607.28 762C607.4 769.8 607.4 779.2 608 786C608.6 792.8 609.28 797.6 610.88 802.8C612.48 808 614.88 812.4 617.6 817.2C620.32 822 624.2 826.8 627.2 831.6C630.2 836.4 633.4 840.8 635.6 846C637.8 851.2 639.28 857.2 640.4 862.8C641.52 868.4 641.84 873.92 642.32 879.6C642.8 885.28 643.12 894 643.28 896.88" fill="none" stroke="#c0912e" stroke-width="2.18" stroke-linecap="round"/>
<path d="M607.28 739.2C607.28 743 607.16 754.2 607.28 762C607.4 769.8 607.4 779.2 608 786C608.6 792.8 609.28 797.6 610.88 802.8C612.48 808 614.88 812.4 617.6 817.2C620.32 822 624.2 826.8 627.2 831.6C630.2 836.4 633.4 840.8 635.6 846C637.8 851.2 639.28 857.2 640.4 862.8C641.52 868.4 641.84 873.92 642.32 879.6C642.8 885.28 643.12 894 643.28 896.88" fill="none" stroke="#f0d670" stroke-width="1.2" stroke-linecap="round"/>
<path d="M689.76 737.28C689.76 741.4 689.92 753.88 689.76 762C689.6 770.12 689.56 779.2 688.8 786C688.04 792.8 687 797.2 685.2 802.8C683.4 808.4 680.8 814.4 678 819.6C675.2 824.8 671.4 829.2 668.4 834C665.4 838.8 662.12 843.2 660 848.4C657.88 853.6 656.56 859.6 655.68 865.2C654.8 870.8 655.04 876.72 654.72 882C654.4 887.28 653.92 894.4 653.76 896.88" fill="none" stroke="#c0912e" stroke-width="2.18" stroke-linecap="round"/>
<path d="M689.76 737.28C689.76 741.4 689.92 753.88 689.76 762C689.6 770.12 689.56 779.2 688.8 786C688.04 792.8 687 797.2 685.2 802.8C683.4 808.4 680.8 814.4 678 819.6C675.2 824.8 671.4 829.2 668.4 834C665.4 838.8 662.12 843.2 660 848.4C657.88 853.6 656.56 859.6 655.68 865.2C654.8 870.8 655.04 876.72 654.72 882C654.4 887.28 653.92 894.4 653.76 896.88" fill="none" stroke="#f0d670" stroke-width="1.2" stroke-linecap="round"/>
<path d="M517.28 804.48C517.32 806.2 517.28 811.48 517.52 814.8C517.76 818.12 517.88 820.7 518.72 824.4C519.56 828.1 520.68 832.9 522.56 837C524.44 841.1 526.76 845 530 849C533.24 853 537.5 857.5 542 861C546.5 864.5 551.5 867.38 557 870C562.5 872.62 568.5 874.96 575 876.72C581.5 878.48 589 879.68 596 880.56C603 881.44 611.6 881.6 617 882C622.4 882.4 625.74 882.32 628.4 882.96C631.06 883.6 631.88 884.6 632.96 885.84C634.04 887.08 634.54 888.56 634.88 890.4C635.22 892.24 634.98 895.8 635 896.88" fill="none" stroke="#c0912e" stroke-width="3.1" stroke-linecap="round"/>
<path d="M517.28 804.48C517.32 806.2 517.28 811.48 517.52 814.8C517.76 818.12 517.88 820.7 518.72 824.4C519.56 828.1 520.68 832.9 522.56 837C524.44 841.1 526.76 845 530 849C533.24 853 537.5 857.5 542 861C546.5 864.5 551.5 867.38 557 870C562.5 872.62 568.5 874.96 575 876.72C581.5 878.48 589 879.68 596 880.56C603 881.44 611.6 881.6 617 882C622.4 882.4 625.74 882.32 628.4 882.96C631.06 883.6 631.88 884.6 632.96 885.84C634.04 887.08 634.54 888.56 634.88 890.4C635.22 892.24 634.98 895.8 635 896.88" fill="none" stroke="#f0d670" stroke-width="1.71" stroke-linecap="round"/>
<path d="M779.04 803.76C779 805.6 779.01 811.76 778.8 814.8C778.58 817.84 778.79 818.3 777.74 822C776.69 825.7 774.87 832.25 772.5 837C770.12 841.75 767 846.25 763.5 850.5C760 854.75 756.25 859 751.5 862.5C746.75 866 740.75 869.13 735 871.5C729.25 873.87 723.25 875.45 717 876.72C710.75 877.99 704.5 878.52 697.5 879.12C690.5 879.72 680.13 879.76 675 880.32C669.87 880.88 668.78 881.56 666.72 882.48C664.66 883.4 663.5 884.52 662.64 885.84C661.78 887.16 661.76 888.56 661.56 890.4C661.36 892.24 661.46 895.8 661.44 896.88" fill="none" stroke="#c0912e" stroke-width="3.1" stroke-linecap="round"/>
<path d="M779.04 803.76C779 805.6 779.01 811.76 778.8 814.8C778.58 817.84 778.79 818.3 777.74 822C776.69 825.7 774.87 832.25 772.5 837C770.12 841.75 767 846.25 763.5 850.5C760 854.75 756.25 859 751.5 862.5C746.75 866 740.75 869.13 735 871.5C729.25 873.87 723.25 875.45 717 876.72C710.75 877.99 704.5 878.52 697.5 879.12C690.5 879.72 680.13 879.76 675 880.32C669.87 880.88 668.78 881.56 666.72 882.48C664.66 883.4 663.5 884.52 662.64 885.84C661.78 887.16 661.76 888.56 661.56 890.4C661.36 892.24 661.46 895.8 661.44 896.88" fill="none" stroke="#f0d670" stroke-width="1.71" stroke-linecap="round"/>
<path d="M510.5 806.7 A137.5 6.3 0 0 1 785.5 806.7" fill="none" stroke="#c0912e" stroke-width="2.9"/>
<path d="M510.5 806.7 A137.5 6.3 0 0 1 785.5 806.7" fill="none" stroke="#f0d670" stroke-width="1.59" transform="translate(0,-0.3)"/>
<g>
<rect x="513.92" y="791.28" width="7.2" height="13.2" rx="0.6" fill="url(#gSlb)" />
<rect x="513.92" y="791.28" width="7.2" height="0.9" fill="#c0912e" opacity="0.5"/>
<path d="M514.64 791.58C512.84 789.13 512.59 786.48 512.59 783.01C512.59 776.89 515.65 772 517.52 771.18C519.39 772 522.45 776.89 522.45 783.01C522.45 786.48 522.2 789.13 520.4 791.58 Z" fill="url(#gBulb)" stroke="#f3f1ea" stroke-opacity="0.7" stroke-width="0.5"/>
<ellipse cx="517.52" cy="783.42" rx="3.25" ry="8.16" fill="url(#gGlow)"/>
</g>
<g>
<rect x="562.88" y="760.32" width="7.2" height="16.56" rx="0.6" fill="url(#gSlb)" />
<rect x="562.88" y="760.32" width="7.2" height="0.9" fill="#c0912e" opacity="0.5"/>
<path d="M563.6 760.62C561.62 758.09 561.36 755.34 561.36 751.75C561.36 745.41 564.54 740.34 566.48 739.5C568.42 740.34 571.59 745.41 571.59 751.75C571.59 755.34 571.34 758.09 569.36 760.62 Z" fill="url(#gBulb)" stroke="#f3f1ea" stroke-opacity="0.7" stroke-width="0.5"/>
<ellipse cx="566.48" cy="752.17" rx="3.38" ry="8.45" fill="url(#gGlow)"/>
</g>
<g>
<rect x="571.99" y="782.4" width="7.7" height="17.28" rx="0.6" fill="url(#gSlb)" />
<rect x="571.99" y="782.4" width="7.7" height="0.9" fill="#c0912e" opacity="0.5"/>
<path d="M572.76 782.7C570.85 779.91 570.58 776.88 570.58 772.92C570.58 765.94 573.84 760.35 575.84 759.42C577.84 760.35 581.09 765.94 581.09 772.92C581.09 776.88 580.83 779.91 578.92 782.7 Z" fill="url(#gBulb)" stroke="#f3f1ea" stroke-opacity="0.7" stroke-width="0.5"/>
<ellipse cx="575.84" cy="773.39" rx="3.47" ry="9.31" fill="url(#gGlow)"/>
</g>
<g>
<rect x="604.17" y="724.08" width="6.7" height="15.6" rx="0.6" fill="url(#gSlb)" />
<rect x="604.17" y="724.08" width="6.7" height="0.9" fill="#c0912e" opacity="0.5"/>
<path d="M604.84 724.38C603.06 721.96 602.82 719.34 602.82 715.91C602.82 709.86 605.73 705.03 607.52 704.22C609.3 705.03 612.22 709.86 612.22 715.91C612.22 719.34 611.98 721.96 610.2 724.38 Z" fill="url(#gBulb)" stroke="#f3f1ea" stroke-opacity="0.7" stroke-width="0.5"/>
<ellipse cx="607.52" cy="716.32" rx="3.1" ry="8.06" fill="url(#gGlow)"/>
</g>
<g>
<rect x="644.48" y="715.92" width="7.2" height="15.84" rx="0.6" fill="url(#gSlb)" />
<rect x="644.48" y="715.92" width="7.2" height="0.9" fill="#c0912e" opacity="0.5"/>
<path d="M645.2 716.22C643.4 713.74 643.15 711.06 643.15 707.55C643.15 701.36 646.21 696.41 648.08 695.58C649.95 696.41 653.01 701.36 653.01 707.55C653.01 711.06 652.76 713.74 650.96 716.22 Z" fill="url(#gBulb)" stroke="#f3f1ea" stroke-opacity="0.7" stroke-width="0.5"/>
<ellipse cx="648.08" cy="707.96" rx="3.25" ry="8.26" fill="url(#gGlow)"/>
</g>
<g>
<rect x="775.2" y="790.08" width="7.2" height="13.68" rx="0.6" fill="url(#gSlb)" />
<rect x="775.2" y="790.08" width="7.2" height="0.9" fill="#c0912e" opacity="0.5"/>
<path d="M775.92 790.38C774.03 787.93 773.78 785.28 773.78 781.81C773.78 775.69 776.89 770.8 778.8 769.98C780.71 770.8 783.82 775.69 783.82 781.81C783.82 785.28 783.57 787.93 781.68 790.38 Z" fill="url(#gBulb)" stroke="#f3f1ea" stroke-opacity="0.7" stroke-width="0.5"/>
<ellipse cx="778.8" cy="782.22" rx="3.31" ry="8.16" fill="url(#gGlow)"/>
</g>
<g>
<rect x="728.4" y="760.8" width="7.2" height="16.08" rx="0.6" fill="url(#gSlb)" />
<rect x="728.4" y="760.8" width="7.2" height="0.9" fill="#c0912e" opacity="0.5"/>
<path d="M729.12 761.1C727.32 758.51 727.07 755.7 727.07 752.03C727.07 745.55 730.13 740.36 732 739.5C733.87 740.36 736.93 745.55 736.93 752.03C736.93 755.7 736.68 758.51 734.88 761.1 Z" fill="url(#gBulb)" stroke="#f3f1ea" stroke-opacity="0.7" stroke-width="0.5"/>
<ellipse cx="732" cy="752.46" rx="3.25" ry="8.64" fill="url(#gGlow)"/>
</g>
<g>
<rect x="717.11" y="781.92" width="7.7" height="17.76" rx="0.6" fill="url(#gSlb)" />
<rect x="717.11" y="781.92" width="7.7" height="0.9" fill="#c0912e" opacity="0.5"/>
<path d="M717.88 782.22C716.1 779.45 715.84 776.46 715.84 772.54C715.84 765.63 719.02 760.1 720.96 759.18C722.9 760.1 726.07 765.63 726.07 772.54C726.07 776.46 725.82 779.45 724.04 782.22 Z" fill="url(#gBulb)" stroke="#f3f1ea" stroke-opacity="0.7" stroke-width="0.5"/>
<ellipse cx="720.96" cy="773" rx="3.38" ry="9.22" fill="url(#gGlow)"/>
</g>
<g>
<rect x="686.41" y="722.88" width="6.7" height="14.88" rx="0.6" fill="url(#gSlb)" />
<rect x="686.41" y="722.88" width="6.7" height="0.9" fill="#c0912e" opacity="0.5"/>
<path d="M687.08 723.18C685.39 720.73 685.16 718.08 685.16 714.61C685.16 708.49 688.01 703.6 689.76 702.78C691.51 703.6 694.36 708.49 694.36 714.61C694.36 718.08 694.13 720.73 692.44 723.18 Z" fill="url(#gBulb)" stroke="#f3f1ea" stroke-opacity="0.7" stroke-width="0.5"/>
<ellipse cx="689.76" cy="715.02" rx="3.04" ry="8.16" fill="url(#gGlow)"/>
</g>
<path d="M632.42 905.78C635.29 907.88 641.08 909.97 645.32 912.24L651.32 912.24C655.56 909.97 661.35 907.88 664.22 905.78 Z" fill="url(#gConeb)"/>
<rect x="630.22" y="897.18" width="36.2" height="9.4" rx="1" fill="url(#gHubb)"/>
<ellipse cx="648.32" cy="897.68" rx="17.8" ry="1.0" fill="#dcb548"/>
<path d="M630.52 906.28 L666.12 906.28" stroke="#c0912e" stroke-width="0.8" opacity="0.7"/>
<circle cx="648.32" cy="916.08" r="3.3" fill="url(#gBallb)"/>
</g>
</svg>
<div class="t h" style="left:77.77px;top:56.25px;font-size:30.3px;transform:scaleX(0.9551)">Parameter</div>
<div class="t" style="left:572.2px;top:14.74px;font-size:19.6px;transform:scaleX(1.0231)">Dia. 13cm (≈5.1”)</div>
<div class="t" style="left:700.08px;top:106.64px;font-size:19.6px;transform:scaleX(1.0367)">91cm (≈35.8”) adjustable</div>
<div class="t" style="left:0;top:0;font-size:19.6px;transform:translate(823.49px,330.7px) rotate(-90deg) scaleX(1.0196)">68cm (≈26.8”)</div>
<div class="t" style="left:567.59px;top:409.64px;font-size:19.6px;transform:scaleX(1.0267)">Dia. 72cm (≈28.3”)</div>
<div class="t" style="left:133.09px;top:253.74px;font-size:19.6px;transform:scaleX(1.0285)">Dia. 13cm (≈5.1”)</div>
<div class="t" style="left:249.28px;top:353.14px;font-size:19.6px;transform:scaleX(1.0367)">91cm (≈35.8”) adjustable</div>
<div class="t" style="left:0;top:0;font-size:19.6px;transform:translate(392.49px,557.51px) rotate(-90deg) scaleX(1.0346)">83cm (≈32.7”)</div>
<div class="t" style="left:123.69px;top:633.54px;font-size:19.6px;transform:scaleX(1.0267)">Dia. 72cm (≈28.3”)</div>
<div class="t" style="left:574.19px;top:468.74px;font-size:19.6px;transform:scaleX(1.0244)">Dia. 13cm (≈5.1”)</div>
<div class="t" style="left:692.78px;top:558.64px;font-size:19.6px;transform:scaleX(1.0381)">91cm (≈35.8”) adjustable</div>
<div class="t" style="left:0;top:0;font-size:19.6px;transform:translate(856.29px,835.43px) rotate(-90deg) scaleX(1.0412)">105cm (≈41.3”)</div>
<div class="t" style="left:574.18px;top:946.64px;font-size:19.6px;transform:scaleX(1.0304)">Dia. 91cm (≈35.8”)</div>
</body></html>
